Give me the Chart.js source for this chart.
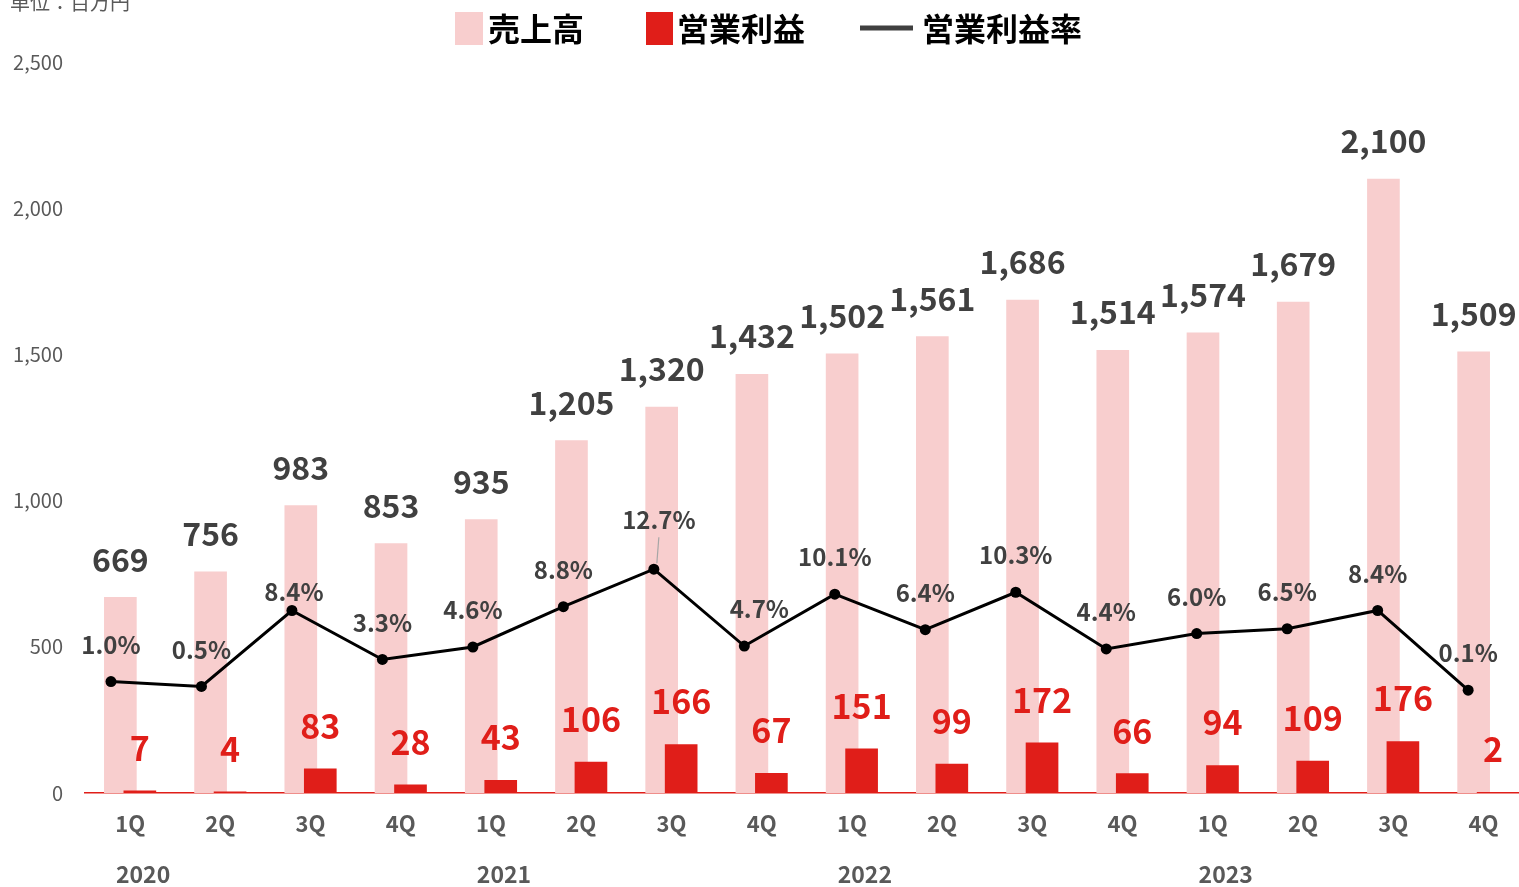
<!DOCTYPE html>
<html><head><meta charset="utf-8">
<script src="https://cdn.jsdelivr.net/npm/chart.js@4/dist/chart.umd.min.js"></script>
<style>html,body{margin:0;padding:0;overflow:hidden;background:#fff}
canvas{display:block}</style></head>
<body><canvas id="c" width="1534" height="887" style="width:1534px;height:887px"></canvas>
<script>
const quarters = ['1Q','2Q','3Q','4Q','1Q','2Q','3Q','4Q','1Q','2Q','3Q','4Q','1Q','2Q','3Q','4Q'];
const years = ['2020','2021','2022','2023'];
const sales = [669,756,983,853,935,1205,1320,1432,1502,1561,1686,1514,1574,1679,2100,1509];
const profit = [7,4,83,28,43,106,166,67,151,99,172,66,94,109,176,2];
const margin = [1.0,0.5,8.4,3.3,4.6,8.8,12.7,4.7,10.1,6.4,10.3,4.4,6.0,6.5,8.4,0.1];
const salesTicks = [0,500,1000,1500,2000,2500];
const seriesNames = ['売上高','営業利益','営業利益率'];
const unitLabel = '単位：百万円';

const PINK = 'rgb(248,206,206)';
const RED = 'rgb(224,30,25)';
const DARK = '#404040';
const GREY = '#595959';
const FONT = '"Noto Sans CJK JP","Noto Sans",sans-serif';

// small label nudges (style only)
const rateLabelNudge = {2:{dx:2,dy:18}, 6:{dx:5,dy:-12, leader:true}, 7:{dx:15,dy:0}};

const labelPlugin = {
  id:'labels',
  afterDatasetsDraw(chart){
    const ctx = chart.ctx;
    ctx.save();
    ctx.textAlign='center'; ctx.textBaseline='middle';
    ctx.fillStyle=DARK; ctx.font='bold 32px '+FONT;
    chart.getDatasetMeta(0).data.forEach((el,i)=>{
      ctx.fillText(sales[i].toLocaleString('en-US'), el.x, el.y-38);
    });
    ctx.fillStyle=RED; ctx.font='bold 34px '+FONT;
    chart.getDatasetMeta(1).data.forEach((el,i)=>{
      ctx.fillText(profit[i].toLocaleString('en-US'), el.x, el.y-43);
    });
    ctx.fillStyle=DARK; ctx.font='bold 24px '+FONT;
    chart.getDatasetMeta(2).data.forEach((el,i)=>{
      const n = rateLabelNudge[i]||{dx:0,dy:0};
      const lx = el.x+n.dx, ly = el.y-37+n.dy;
      ctx.fillText(margin[i].toFixed(1)+'%', lx, ly);
      if(n.leader){
        ctx.save();
        ctx.strokeStyle='#a6a6a6'; ctx.lineWidth=1.2;
        ctx.beginPath(); ctx.moveTo(lx, ly+17); ctx.lineTo(el.x+3, el.y-6); ctx.stroke();
        ctx.restore();
      }
    });
    ctx.restore();
  },
  afterDraw(chart){
    const ctx = chart.ctx;
    const xs = chart.scales.x;
    ctx.save();
    ctx.fillStyle=GREY; ctx.font='bold 23px '+FONT;
    ctx.textAlign='center'; ctx.textBaseline='middle';
    years.forEach((y,k)=>{
      ctx.fillText(y, xs.getPixelForValue(k*4)+13, 874);
    });
    ctx.font='normal 20px '+FONT; ctx.textAlign='left';
    ctx.fillText(unitLabel, 10, 2);
    ctx.font='bold 32px '+FONT;
    ctx.fillStyle=PINK; ctx.fillRect(455,12,28,33);
    ctx.fillStyle='#000'; ctx.fillText(seriesNames[0], 488, 29);
    ctx.fillStyle=RED; ctx.fillRect(646,12,27,33);
    ctx.fillStyle='#000'; ctx.fillText(seriesNames[1], 677, 29);
    ctx.strokeStyle=DARK; ctx.lineWidth=5;
    ctx.beginPath(); ctx.moveTo(860,28); ctx.lineTo(913,28); ctx.stroke();
    ctx.fillStyle='#000'; ctx.fillText(seriesNames[2], 922, 29);
    ctx.restore();
  }
};

const pts = (arr)=>arr.map((v,i)=>({x:i,y:v}));

const chart = new Chart(document.getElementById('c'), {
  data:{
    labels: quarters,
    datasets:[
      {type:'bar', label:seriesNames[0], data:pts(sales), backgroundColor:PINK, order:2,
       grouped:false, barThickness:32, yAxisID:'y', xAxisID:'xs'},
      {type:'bar', label:seriesNames[1], data:pts(profit), backgroundColor:RED, order:1,
       grouped:false, barThickness:32, yAxisID:'y', xAxisID:'xp'},
      {type:'line', label:seriesNames[2], data:pts(margin),
       borderColor:'#000', borderWidth:3,
       pointRadius:5.5, pointBackgroundColor:'#000', pointBorderWidth:0, tension:0, order:0,
       yAxisID:'y1', xAxisID:'x2'}
    ]
  },
  options:{
    responsive:false, animation:false,
    layout:{padding:{top:62,right:0,left:0,bottom:0}},
    plugins:{legend:{display:false}, tooltip:{enabled:false}},
    scales:{
      x:{
        type:'category', offset:true, position:'bottom',
        grid:{display:false, drawTicks:false, offset:true},
        border:{display:true, color:RED, width:1.5},
        ticks:{color:GREY, font:{family:FONT, size:22, weight:'bold'}, padding:17},
        afterFit(s){ s.height = 94; }
      },
      xs:{type:'linear', display:false, offset:false, position:'bottom', min:-0.392, max:15.608},
      xp:{type:'linear', display:false, offset:false, position:'bottom', min:-0.608, max:15.392},
      x2:{type:'linear', display:false, offset:false, position:'bottom', min:-0.287, max:15.667},
      y:{
        type:'linear', position:'left',
        min:salesTicks[0], max:salesTicks[salesTicks.length-1],
        afterBuildTicks(s){ s.ticks = salesTicks.map(v=>({value:v})); },
        grid:{display:false, drawTicks:false},
        border:{display:false},
        ticks:{color:GREY, font:{family:FONT, size:20}, padding:22,
               callback:(v)=>v.toLocaleString('en-US')},
        afterFit(s){ s.width = 85; }
      },
      y1:{type:'linear', display:false, position:'right', min:-10.6, max:65.5}
    }
  },
  plugins:[labelPlugin]
});
</script></body></html>
